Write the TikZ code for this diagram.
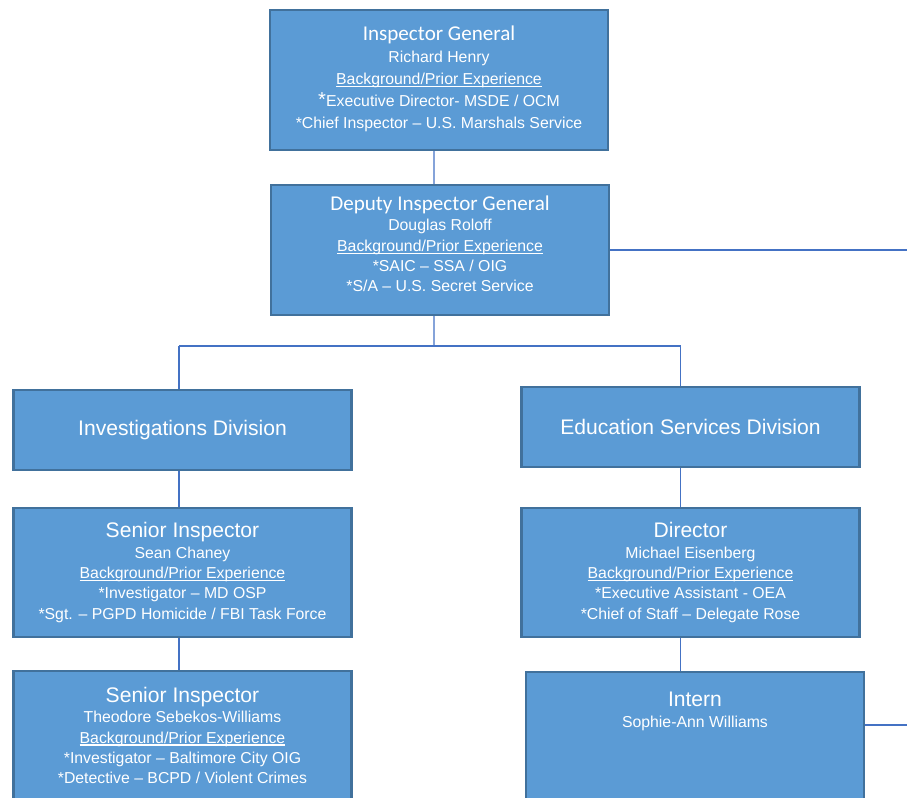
\documentclass[tikz,border=0pt]{standalone}
\usepackage{fontspec}
\setmainfont{Liberation Sans}
\newfontfamily\calibri{Carlito}
\usetikzlibrary{positioning}
\definecolor{boxblue}{HTML}{5B9BD5}
\definecolor{boxedge}{HTML}{41719C}
\definecolor{linkblue}{HTML}{4472C4}
\newcommand\cbtitle[1]{{\calibri\fontsize{12}{14}\selectfont #1}}
\newcommand\aptitle[1]{{\fontsize{12}{14}\selectfont #1}}
\newcommand\bigast{{\fontsize{11.5}{11.5}\selectfont *}}
\newcommand\ulbg[1]{\setbox0\hbox{#1}\rlap{\rule[-1.5pt]{\wd0}{0.7pt}}\box0}
\tikzset{
  orgbox/.style={draw=boxedge, line width=1.3pt, fill=boxblue, text=white,
    align=center, minimum width=6.76cm, inner sep=0pt,
    font=\fontsize{9}{11.6}\selectfont},
  link/.style={draw=linkblue, line width=0.8pt},
}
\begin{document}
\begin{tikzpicture}[x=0.02cm, y=-0.02cm]
  %%%%% START %%%%%
  \useasboundingbox (0,0) rectangle (907,798);

  % top of the chart
  \node[orgbox, minimum height=2.8cm, text depth=3pt, font=\fontsize{9}{12.6}\selectfont] (ig) at (439,80)
    {\cbtitle{Inspector General}\\ Richard Henry\\ \ulbg{Background/Prior Experience}\\
     \bigast Executive Director- MSDE / OCM\\ *Chief Inspector – U.S. Marshals Service};
  \node[orgbox, minimum height=2.6cm, text depth=7pt] (dig) at (440,250)
    {\cbtitle{Deputy Inspector General}\\ Douglas Roloff\\ \ulbg{Background/Prior Experience}\\
     *SAIC – SSA / OIG\\ *S/A – U.S. Secret Service};

  % divisions
  \node[orgbox, minimum height=1.6cm] (inv) at (182.5,430) {\aptitle{Investigations Division}};
  \node[orgbox, minimum height=1.6cm] (edu) at (690.5,427) {\aptitle{Education Services Division}};

  % left column
  \node[orgbox, minimum height=2.58cm] (si1) at (182.5,572.5)
    {\aptitle{Senior Inspector}\\ Sean Chaney\\ \ulbg{Background/Prior Experience}\\
     *Investigator – MD OSP\\ *Sgt. – PGPD Homicide / FBI Task Force};
  \node[orgbox, minimum height=2.58cm] (si2) at (182.5,735.5)
    {\aptitle{Senior Inspector}\\ Theodore Sebekos-Williams\\ \ulbg{Background/Prior Experience}\\
     *Investigator – Baltimore City OIG\\ *Detective – BCPD / Violent Crimes};

  % right column
  \node[orgbox, minimum height=2.58cm] (dir) at (690.5,572.5)
    {\aptitle{Director}\\ Michael Eisenberg\\ \ulbg{Background/Prior Experience}\\
     *Executive Assistant - OEA\\ *Chief of Staff – Delegate Rose};
  \node[orgbox, anchor=north, inner ysep=11.4pt, text depth=2.4cm] (intern) at (695,671)
    {\aptitle{Intern}\\ Sophie-Ann Williams};

  % connectors
  \coordinate (split) at (434,346);
  \coordinate (offdig) at (907,250);
  \coordinate (offintern) at (907,725);
  \draw[link] ([xshift=-0.1cm]ig.south) -- ([xshift=-0.12cm]dig.north);
  \draw[link] ([xshift=-0.12cm]dig.south) -- (split);
  \draw[link] ([xshift=-0.07cm]inv.north |- split) -- ([xshift=-0.2cm]edu.north |- split);
  \draw[link] ([xshift=-0.07cm]inv.north |- split) -- ([xshift=-0.07cm]inv.north);
  \draw[link] ([xshift=-0.2cm]edu.north |- split) -- ([xshift=-0.2cm]edu.north);
  \draw[link] ([xshift=-0.07cm]inv.south) -- ([xshift=-0.07cm]si1.north);
  \draw[link] ([xshift=-0.07cm]si1.south) -- ([xshift=-0.07cm]si2.north);
  \draw[link] ([xshift=-0.2cm]edu.south) -- ([xshift=-0.2cm]dir.north);
  \draw[link] ([xshift=-0.2cm]dir.south) -- ([xshift=-0.2cm]dir.south |- intern.north);
  \draw[link] (dig.east) -- (offdig);
  \draw[link] (intern.east |- offintern) -- (offintern);

  %%%%% END %%%%%
\end{tikzpicture}
\end{document}
